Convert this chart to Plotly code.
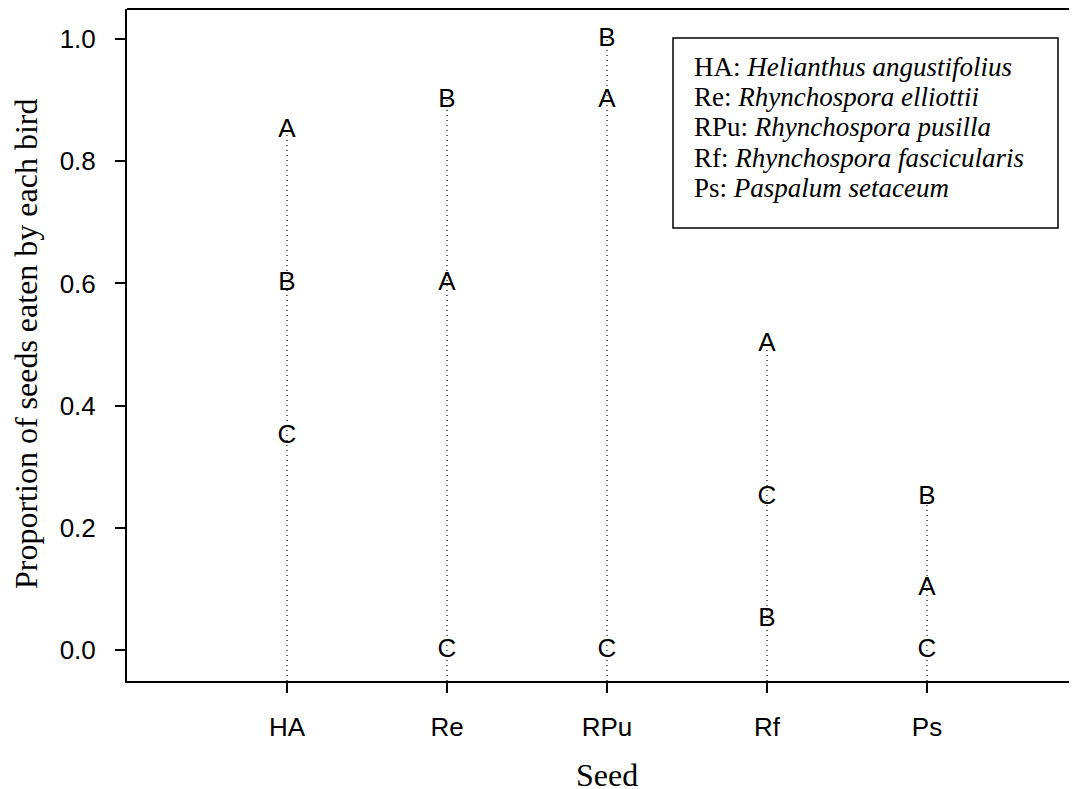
import plotly.graph_objects as go

# ---- data ----
seeds = ["HA", "Re", "RPu", "Rf", "Ps"]
bird_A = [0.85, 0.60, 0.90, 0.50, 0.10]
bird_B = [0.60, 0.90, 1.00, 0.05, 0.25]
bird_C = [0.35, 0.00, 0.00, 0.25, 0.00]
legend_codes = ["HA", "Re", "RPu", "Rf", "Ps"]
legend_names = ["Helianthus angustifolius", "Rhynchospora elliottii",
                "Rhynchospora pusilla", "Rhynchospora fascicularis",
                "Paspalum setaceum"]
y_ticks = [0.0, 0.2, 0.4, 0.6, 0.8, 1.0]

# page has an 8px body margin; work in page pixel coordinates
OFF = 8
PAGE_W, PAGE_H = 1077, 789
W, H = PAGE_W - OFF, PAGE_H - OFF
PL, PT, PB = 127, 9, 681          # plot edges in page px
ML, MT, MR = PL - OFF, PT - OFF, 0
MB = H - (PB - OFF)
YMIN = -(PB - 650) / 611.0
YMAX = (650 - PT) / 611.0
XMIN, XMAX = 0.0, (PAGE_W - PL) / 160.0

xpos = list(range(1, len(seeds) + 1))

fig = go.Figure()

# dotted drop lines from bottom of the plot to each seed's max value
for i, x in enumerate(xpos):
    top = max(bird_A[i], bird_B[i], bird_C[i])
    fig.add_trace(go.Scatter(
        x=[x, x], y=[YMIN, top], mode="lines",
        line=dict(color="black", width=1.2, dash="1px,4px"),
        hoverinfo="skip", showlegend=False))

letter_font = dict(family="Liberation Sans, Arial", size=26, color="black")
for name, vals in [("A", bird_A), ("B", bird_B), ("C", bird_C)]:
    fig.add_trace(go.Scatter(
        x=xpos, y=vals, mode="text", text=[name] * len(vals),
        textposition="middle center", textfont=letter_font,
        showlegend=False, name=name))

plot_w = W - ML - MR
plot_h = H - MT - MB

def px_x(px):
    return (px - PL) / plot_w

def px_y(py):
    return (PB - py) / plot_h

# legend box
fig.add_shape(type="rect", xref="paper", yref="paper",
              x0=px_x(673), x1=px_x(1058), y0=px_y(228), y1=px_y(38),
              line=dict(color="black", width=1.5), fillcolor="white", layer="above")
line_ys = [67, 97, 127, 158, 188]
for code, nm, ly in zip(legend_codes, legend_names, line_ys):
    fig.add_annotation(xref="paper", yref="paper", x=px_x(692), y=px_y(ly),
                       xanchor="left", yanchor="middle", showarrow=False,
                       text=f"{code}: <i>{nm}</i>",
                       font=dict(family="Liberation Serif, Times New Roman", size=27, color="black"))

# top border line (no right border)
fig.add_shape(type="line", xref="paper", yref="paper", x0=0, x1=1, y0=1, y1=1,
              line=dict(color="black", width=2))

# axis titles
fig.add_annotation(xref="x", yref="paper", x=3, y=px_y(775), showarrow=False,
                   text="Seed", xanchor="center", yanchor="middle",
                   font=dict(family="Liberation Serif, Times New Roman", size=32, color="black"))
fig.add_annotation(xref="paper", yref="paper", x=px_x(26), y=px_y(344), showarrow=False,
                   text="Proportion of seeds eaten by each bird", textangle=-90,
                   xanchor="center", yanchor="middle",
                   font=dict(family="Liberation Serif, Times New Roman", size=32, color="black"))

tick_font = dict(family="Liberation Sans, Arial", size=26, color="black")
fig.update_layout(
    width=W, height=H,
    margin=dict(l=ML, r=MR, t=MT, b=MB, pad=0),
    paper_bgcolor="white", plot_bgcolor="white",
    showlegend=False,
    xaxis=dict(range=[XMIN, XMAX], tickvals=xpos, ticktext=seeds,
               showgrid=False, zeroline=False, showline=True, linecolor="black",
               linewidth=2, ticks="outside", ticklen=10, tickwidth=2,
               tickcolor="black", tickfont=tick_font, ticklabelstandoff=12),
    yaxis=dict(range=[YMIN, YMAX], tickvals=y_ticks,
               ticktext=[f"{v:.1f}" for v in y_ticks],
               showgrid=False, zeroline=False, showline=True, linecolor="black",
               linewidth=2, ticks="outside", ticklen=10, tickwidth=2,
               tickcolor="black", tickfont=tick_font, ticklabelstandoff=14),
)

fig.write_html("out.html")
